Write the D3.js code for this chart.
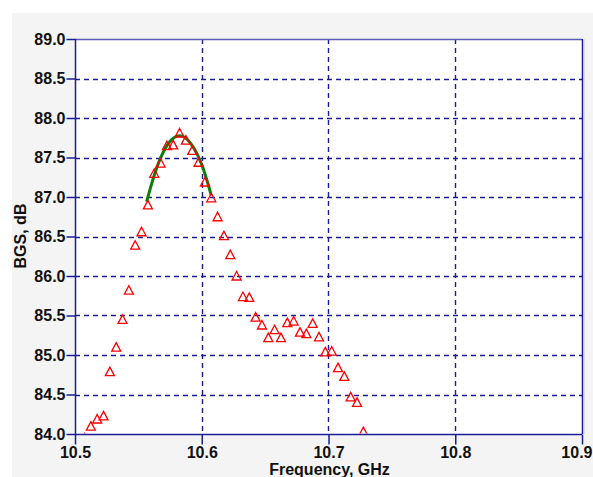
<!DOCTYPE html>
<html>
<head>
<meta charset="utf-8">
<script src="https://cdn.jsdelivr.net/npm/d3@7"></script>
<style>
  html, body { margin: 0; padding: 0; background: #ffffff; overflow: hidden; }
  svg { display: block; }
  text { font-family: "Liberation Sans", Arial, sans-serif; font-weight: bold; fill: #111; }
</style>
</head>
<body>
<svg id="chart" width="593" height="477"></svg>
<script>
// ---- data ----
const frequency = [10.5075, 10.5125, 10.5175, 10.5225, 10.5275, 10.5325, 10.5375, 10.5425, 10.5475, 10.5525,
  10.5575, 10.5625, 10.5675, 10.5725, 10.5775, 10.5825, 10.5875, 10.5925, 10.5975, 10.6025,
  10.6075, 10.6125, 10.6175, 10.6225, 10.6275, 10.6325, 10.6375, 10.6425, 10.6475, 10.6525,
  10.6575, 10.6625, 10.6675, 10.6725, 10.6775, 10.6825, 10.6875, 10.6925, 10.6975, 10.7025,
  10.7075, 10.7125, 10.7175, 10.7225, 10.7275];
const bgs = [83.95, 84.10, 84.19, 84.23, 84.79, 85.10, 85.45, 85.82, 86.39, 86.56,
  86.90, 87.30, 87.43, 87.65, 87.66, 87.81, 87.72, 87.59, 87.44, 87.19,
  86.99, 86.75, 86.51, 86.27, 86.00, 85.74, 85.73, 85.48, 85.38, 85.22,
  85.32, 85.22, 85.41, 85.43, 85.29, 85.27, 85.40, 85.23, 85.04, 85.05,
  84.84, 84.73, 84.47, 84.40, 84.03];
const fitFrequency = [10.5565, 10.5605, 10.5645, 10.5685, 10.5725, 10.5765, 10.5805, 10.5845,
  10.5885, 10.5925, 10.5965, 10.6005, 10.6045, 10.6075];
const fitBgs = [86.94, 87.17, 87.37, 87.53, 87.65, 87.73, 87.77, 87.77,
  87.73, 87.65, 87.54, 87.39, 87.19, 87.02];
const xTicks = [10.5, 10.6, 10.7, 10.8, 10.9];
const yTicks = [84.0, 84.5, 85.0, 85.5, 86.0, 86.5, 87.0, 87.5, 88.0, 88.5, 89.0];
const xTitle = "Frequency, GHz";
const yTitle = "BGS, dB";

// ---- layout ----
const W = 593;
const L = 75, R = 582, T = 39, B = 434;
const navy = "#1c1c98";
const svg = d3.select("#chart");

svg.append("rect").attr("x", 12).attr("y", 13).attr("width", 581).attr("height", 464).attr("fill", "#f4f4f4");
svg.append("rect").attr("x", L).attr("y", T).attr("width", R - L).attr("height", B - T).attr("fill", "#ffffff");

const x = d3.scaleLinear().domain([10.5, 10.9]).range([L, R]);
const y = d3.scaleLinear().domain([84.0, 89.0]).range([B, T]);

// grid
const grid = svg.append("g").attr("stroke", navy).attr("stroke-width", 1.4).attr("stroke-dasharray", "5,4");
grid.selectAll("line.h").data(yTicks.filter(v => v > 84 && v < 89)).join("line")
  .attr("x1", L).attr("x2", R).attr("y1", d => Math.round(y(d)) + 0.5).attr("y2", d => Math.round(y(d)) + 0.5);
grid.selectAll("line.v").data(xTicks.filter(v => v > 10.5 && v < 10.9)).join("line")
  .attr("y1", T).attr("y2", B).attr("x1", d => Math.round(x(d)) + 0.5).attr("x2", d => Math.round(x(d)) + 0.5);

// frame: top and right
svg.append("line").attr("x1", L).attr("x2", R).attr("y1", T + 0.5).attr("y2", T + 0.5).attr("stroke", "#5a5ab8").attr("stroke-width", 1.5);
svg.append("line").attr("x1", R + 0.5).attr("x2", R + 0.5).attr("y1", T).attr("y2", B).attr("stroke", "#1a1aa8").attr("stroke-width", 1.5);
svg.append("line").attr("x1", R + 2).attr("x2", R + 2).attr("y1", T).attr("y2", B).attr("stroke", "#c8c8e8").attr("stroke-width", 1);

// axes
const fmt1 = d3.format(".1f");
const yAxis = d3.axisLeft(y).tickValues(yTicks).tickFormat(fmt1).tickSize(9).tickPadding(1);
const xAxis = d3.axisBottom(x).tickValues(xTicks).tickFormat(fmt1).tickSize(10).tickPadding(2);

const gy = svg.append("g").attr("transform", `translate(${L + 0.5},0)`).call(yAxis);
const gx = svg.append("g").attr("transform", `translate(0,${B + 0.5})`).call(xAxis);
[gx, gy].forEach(g => {
  g.select(".domain").attr("stroke", navy).attr("stroke-width", 1.5);
  g.selectAll(".tick line").attr("stroke", navy).attr("stroke-width", 1.5);
  g.selectAll(".tick text").attr("font-size", 16).attr("font-family", "Liberation Sans, Arial, sans-serif")
    .attr("font-weight", "bold").attr("fill", "#111");
});
gx.select(".domain").attr("d", `M${L},0H${R}`);
gy.select(".domain").attr("d", `M0,${T}V${B}`);
// keep the last x tick label inside the window
gx.selectAll(".tick text").each(function(d) {
  const t = d3.select(this);
  const w = this.getComputedTextLength();
  const right = x(d) + w / 2;
  if (right > W - 1) t.attr("text-anchor", "end").attr("x", W - 1 - x(d));
});

// clip
svg.append("clipPath").attr("id", "plotclip").append("rect")
  .attr("x", L + 1).attr("y", T).attr("width", R - L - 1).attr("height", B - T - 0.5);

const plot = svg.append("g").attr("clip-path", "url(#plotclip)");

// fit curve
const line = d3.line().x((d, i) => x(fitFrequency[i])).y(d => y(d)).curve(d3.curveCatmullRom);
plot.append("path").attr("d", line(fitBgs)).attr("fill", "none").attr("stroke", "#0a7d0a").attr("stroke-width", 3);

// markers
const tri = "M0,-4.5L4.5,4L-4.5,4Z";
plot.selectAll("path.pt").data(bgs).join("path").attr("class", "pt")
  .attr("d", tri)
  .attr("transform", (d, i) => `translate(${x(frequency[i])},${y(d)})`)
  .attr("fill", "none").attr("stroke", "#ff0000").attr("stroke-width", 1.3);

// titles
svg.append("text").attr("x", (L + R) / 2 + 1).attr("y", 475).attr("text-anchor", "middle")
  .attr("font-size", 16).text(xTitle);
svg.append("text").attr("transform", "translate(26,236) rotate(-90)").attr("text-anchor", "middle")
  .attr("font-size", 16).text(yTitle);
</script>
</body>
</html>
